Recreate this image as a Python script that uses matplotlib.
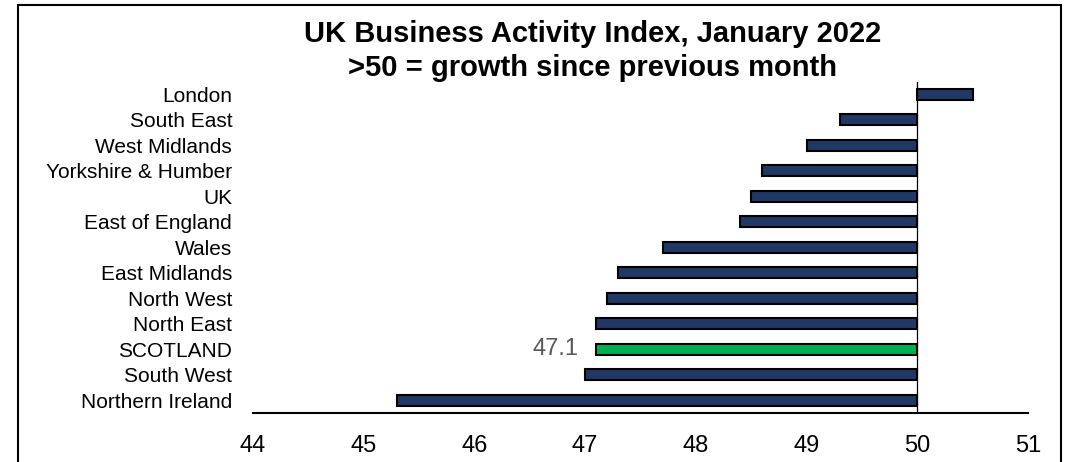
import matplotlib
matplotlib.use("Agg")
import matplotlib.pyplot as plt
from matplotlib.patches import Rectangle

plt.rcParams['font.family'] = ['Liberation Sans', 'DejaVu Sans']

regions = ["London", "South East", "West Midlands", "Yorkshire & Humber", "UK",
           "East of England", "Wales", "East Midlands", "North West", "North East",
           "SCOTLAND", "South West", "Northern Ireland"]
index = [50.5, 49.3, 49.0, 48.6, 48.5, 48.4, 47.7, 47.3, 47.2, 47.1, 47.1, 47.0, 45.3]
highlight = "SCOTLAND"
baseline = 50
xticks = [44, 45, 46, 47, 48, 49, 50, 51]

NAVY = "#1f3864"
GREEN = "#00b050"

fig = plt.figure(figsize=(10.69, 4.62), dpi=100)
ax = fig.add_axes([253/1069, 1-413/462, (1028-253)/1069, (413-81.5)/462])

ypos = list(range(len(regions)))[::-1]
colors = [GREEN if r == highlight else NAVY for r in regions]
widths = [v - baseline for v in index]
ax.barh(ypos, widths, left=baseline, height=0.43, color=colors,
        edgecolor="black", linewidth=1.5)
ax.axvline(baseline, color="black", linewidth=0.9)

# value label next to the highlighted bar
i = regions.index(highlight)
ax.text(index[i] - 0.16, ypos[i], f"{index[i]:.1f}", ha="right", va="center",
        fontsize=17, color="#595959")

ax.set_xlim(44, 51)
ax.set_ylim(-0.5, len(regions) - 0.5)
ax.set_xticks(xticks)
ax.set_yticks(ypos)
ax.set_yticklabels(regions)
ax.tick_params(axis="x", length=0, pad=16, labelsize=17)
ax.tick_params(axis="y", length=0, pad=15, labelsize=15)
for s in ["top", "right", "left"]:
    ax.spines[s].set_visible(False)
ax.spines["bottom"].set_linewidth(1.5)

fig.text(593/1069, 1-51/462, "UK Business Activity Index, January 2022\n>50 = growth since previous month",
         ha="center", va="center", fontsize=21, fontweight="bold", linespacing=1.3)

fig.patches.append(Rectangle((18/1069, -0.1), (1061-18)/1069, 1.1-5/462,
                             transform=fig.transFigure, fill=False,
                             edgecolor="black", linewidth=1.5))

fig.savefig("out.png", dpi=100)
